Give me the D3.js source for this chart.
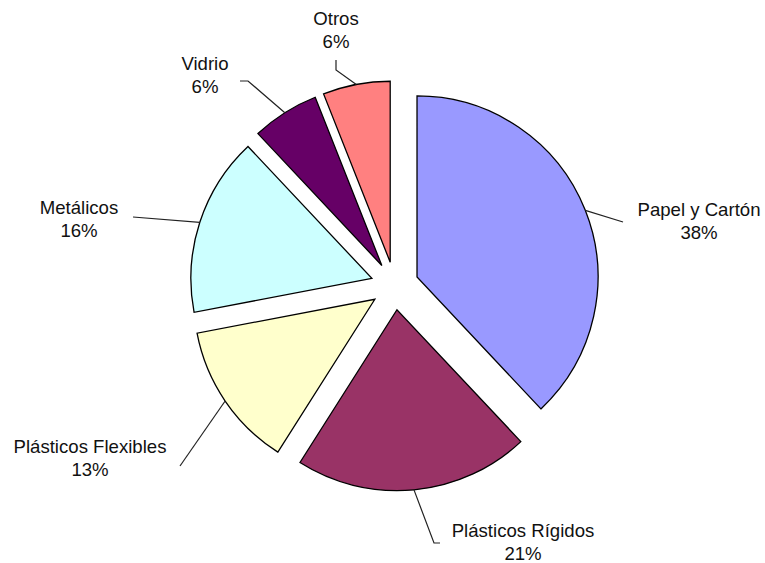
<!DOCTYPE html>
<html>
<head>
<meta charset="utf-8">
<script src="https://cdn.jsdelivr.net/npm/d3@7"></script>
<style>
  html, body { margin: 0; padding: 0; background: #fff; }
  svg { display: block; }
  text { font-family: "Liberation Sans", Arial, sans-serif; font-size: 18.6px; fill: #111; }
</style>
</head>
<body>
<svg id="chart" width="765" height="563"></svg>
<script>
// Waste composition by material (percent)
const categories = ["Papel y Cartón", "Plásticos Rígidos", "Plásticos Flexibles", "Metálicos", "Vidrio", "Otros"];
const values = [38, 21, 13, 16, 6, 6];
const colors = ["#9999FF", "#993366", "#FFFFCC", "#CCFFFF", "#660066", "#FF8080"];

// Label placement: text centre x, first baseline y, and leader points on the label side
const labelLayout = [
  { x: 699, y: 216, leader: [[623, 222]] },
  { x: 523, y: 537, leader: [[434, 543], [440, 543]] },
  { x: 90,  y: 453, leader: [[180, 466]] },
  { x: 79,  y: 214, leader: [[133, 217]] },
  { x: 205, y: 70,  leader: [[248, 81], [240, 81]] },
  { x: 336, y: 25,  leader: [[336, 70], [336, 60]] }
];

const width = 765, height = 563;
const cx = 394.7, cy = 285.8;
const radius = 181;
const explode = 24;

const svg = d3.select("#chart");
const g = svg.append("g").attr("transform", `translate(${cx},${cy})`);

const pie = d3.pie().sort(null).value(d => d).startAngle(0).endAngle(2 * Math.PI);
const arcs = pie(values);
const arc = d3.arc().innerRadius(0).outerRadius(radius);

function offsetOf(a) {
  const mid = (a.startAngle + a.endAngle) / 2;
  return [Math.sin(mid) * explode, -Math.cos(mid) * explode];
}

g.selectAll("path.slice")
  .data(arcs)
  .join("path")
  .attr("class", "slice")
  .attr("transform", d => { const o = offsetOf(d); return `translate(${o[0]},${o[1]})`; })
  .attr("d", arc)
  .attr("fill", (d, i) => colors[i])
  .attr("stroke", "#000")
  .attr("stroke-width", 1.3)
  .attr("stroke-linejoin", "miter");

// Leader lines: from the outer arc at each slice's mid-angle to its label
const line = d3.line();
arcs.forEach((a, i) => {
  const mid = (a.startAngle + a.endAngle) / 2;
  const rr = radius + explode;
  const p = [cx + Math.sin(mid) * rr, cy - Math.cos(mid) * rr];
  const pts = [p].concat(labelLayout[i].leader);
  svg.append("path")
    .attr("d", line(pts))
    .attr("fill", "none")
    .attr("stroke", "#222")
    .attr("stroke-width", 1.2);
});

// Labels: category name and percentage
arcs.forEach((a, i) => {
  const L = labelLayout[i];
  const t = svg.append("text").attr("text-anchor", "middle");
  t.append("tspan").attr("x", L.x).attr("y", L.y).text(categories[i]);
  t.append("tspan").attr("x", L.x).attr("y", L.y + 23).text(values[i] + "%");
});
</script>
</body>
</html>
